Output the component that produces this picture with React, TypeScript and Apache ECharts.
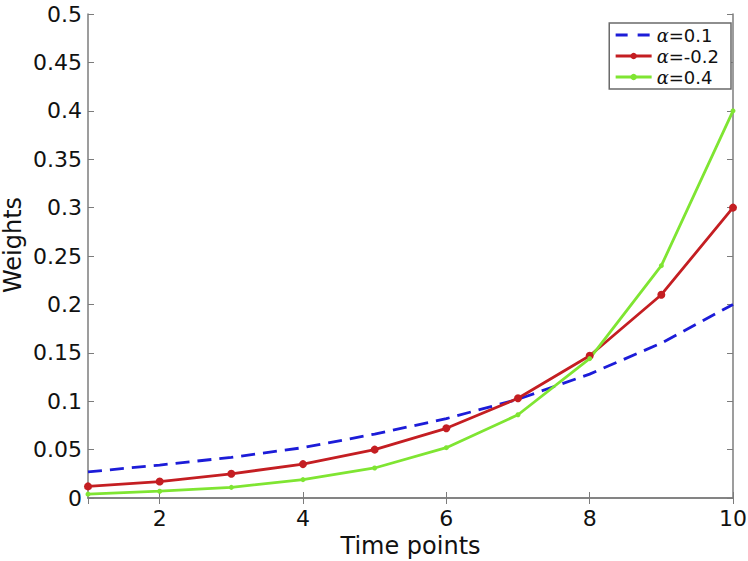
import React, { useEffect, useRef } from "react";
import * as echarts from "echarts";

const timePoints = [1, 2, 3, 4, 5, 6, 7, 8, 9, 10];
const alpha01 = [0.027, 0.034, 0.042, 0.052, 0.066, 0.082, 0.102, 0.128, 0.160, 0.200];
const alphaM02 = [0.012, 0.017, 0.025, 0.035, 0.050, 0.072, 0.103, 0.147, 0.210, 0.300];
const alpha04 = [0.004, 0.007, 0.011, 0.019, 0.031, 0.052, 0.086, 0.144, 0.240, 0.400];
const seriesNames = ["α=0.1", "α=-0.2", "α=0.4"];
const xTitle = "Time points";
const yTitle = "Weights";

const FONT = "'DejaVu Sans', sans-serif";
const AXIS_COLOR = "#7c7c7c";

export default function App() {
  const ref = useRef<HTMLDivElement>(null);
  useEffect(() => {
    if (!ref.current) return;
    const chart = echarts.init(ref.current, undefined, { renderer: "svg" });
    const pairs = (ys: number[]) => timePoints.map((x, i) => [x, ys[i]]);
    const baseX = {
      type: "value",
      min: 1,
      max: 10,
      axisLine: { show: true, lineStyle: { color: AXIS_COLOR, width: 1.5 } },
      axisTick: { show: true, inside: true, length: 6, lineStyle: { color: AXIS_COLOR } },
      splitLine: { show: false },
    };
    const baseY = {
      type: "value",
      min: 0,
      max: 0.5,
      interval: 0.05,
      axisLine: { show: true, lineStyle: { color: AXIS_COLOR, width: 1.5 } },
      axisTick: { show: true, inside: true, length: 6, lineStyle: { color: AXIS_COLOR } },
      splitLine: { show: false },
    };
    chart.setOption({
      animation: false,
      backgroundColor: "#ffffff",
      grid: { left: 88, right: 15, top: 14, bottom: 63, containLabel: false, outerBoundsMode: "none" },
      xAxis: [
        {
          ...baseX,
          position: "bottom",
          name: xTitle,
          nameLocation: "middle",
          nameGap: 31,
          nameTextStyle: { fontFamily: FONT, fontSize: 24, color: "#111" },
          axisLabel: {
            fontFamily: FONT,
            fontSize: 22,
            color: "#111",
            margin: 9,
            showMinLabel: false,
            formatter: (v: number) => (v === 1 ? "" : String(v)),
          },
        },
        { ...baseX, position: "top", axisLabel: { show: false } },
      ],
      yAxis: [
        {
          ...baseY,
          position: "left",
          axisLabel: { fontFamily: FONT, fontSize: 22, color: "#111", margin: 6 },
        },
        { ...baseY, position: "right", axisLabel: { show: false } },
      ],
      graphic: [
        {
          type: "text",
          x: 13,
          y: 245,
          rotation: Math.PI / 2,
          style: {
            text: yTitle,
            fontFamily: FONT,
            fontSize: 24,
            fill: "#111",
            textAlign: "center",
            textVerticalAlign: "middle",
          },
        },
      ],
      legend: {
        show: true,
        right: 17,
        top: 23,
        orient: "vertical",
        backgroundColor: "#ffffff",
        borderColor: "#6a6a6a",
        borderWidth: 1.5,
        borderRadius: 0,
        padding: [3, 12, 3, 5],
        itemGap: 3,
        itemWidth: 36,
        itemHeight: 8,
        data: [
          { name: seriesNames[0], itemStyle: { opacity: 0 }, lineStyle: { type: [12, 10], width: 2.8 } },
          { name: seriesNames[1], lineStyle: { width: 2.8 } },
          { name: seriesNames[2], lineStyle: { width: 2.8 } },
        ],
        formatter: (name: string) => `{a|α}{b|${name.slice(1)}}`,
        textStyle: {
          fontFamily: FONT,
          fontSize: 18,
          color: "#111",
          rich: {
            a: { fontFamily: "'DejaVu Serif', serif", fontStyle: "italic", fontSize: 18, color: "#111" },
            b: { fontFamily: FONT, fontSize: 18, color: "#111" },
          },
        },
      },
      series: [
        {
          name: seriesNames[0],
          type: "line",
          data: pairs(alpha01),
          symbol: "none",
          lineStyle: { color: "#1c1cd8", width: 2.8, type: [14, 8] },
          itemStyle: { color: "#1c1cd8" },
        },
        {
          name: seriesNames[1],
          type: "line",
          data: pairs(alphaM02),
          symbol: "circle",
          symbolSize: 8,
          lineStyle: { color: "#c41e22", width: 2.8 },
          itemStyle: { color: "#c41e22" },
        },
        {
          name: seriesNames[2],
          type: "line",
          data: pairs(alpha04),
          symbol: "circle",
          symbolSize: 5,
          lineStyle: { color: "#7fe532", width: 2.8 },
          itemStyle: { color: "#7fe532" },
        },
      ],
    });
    return () => chart.dispose();
  }, []);
  return <div ref={ref} style={{ width: 748, height: 561, position: "absolute", left: 0, top: 0 }} />;
}
